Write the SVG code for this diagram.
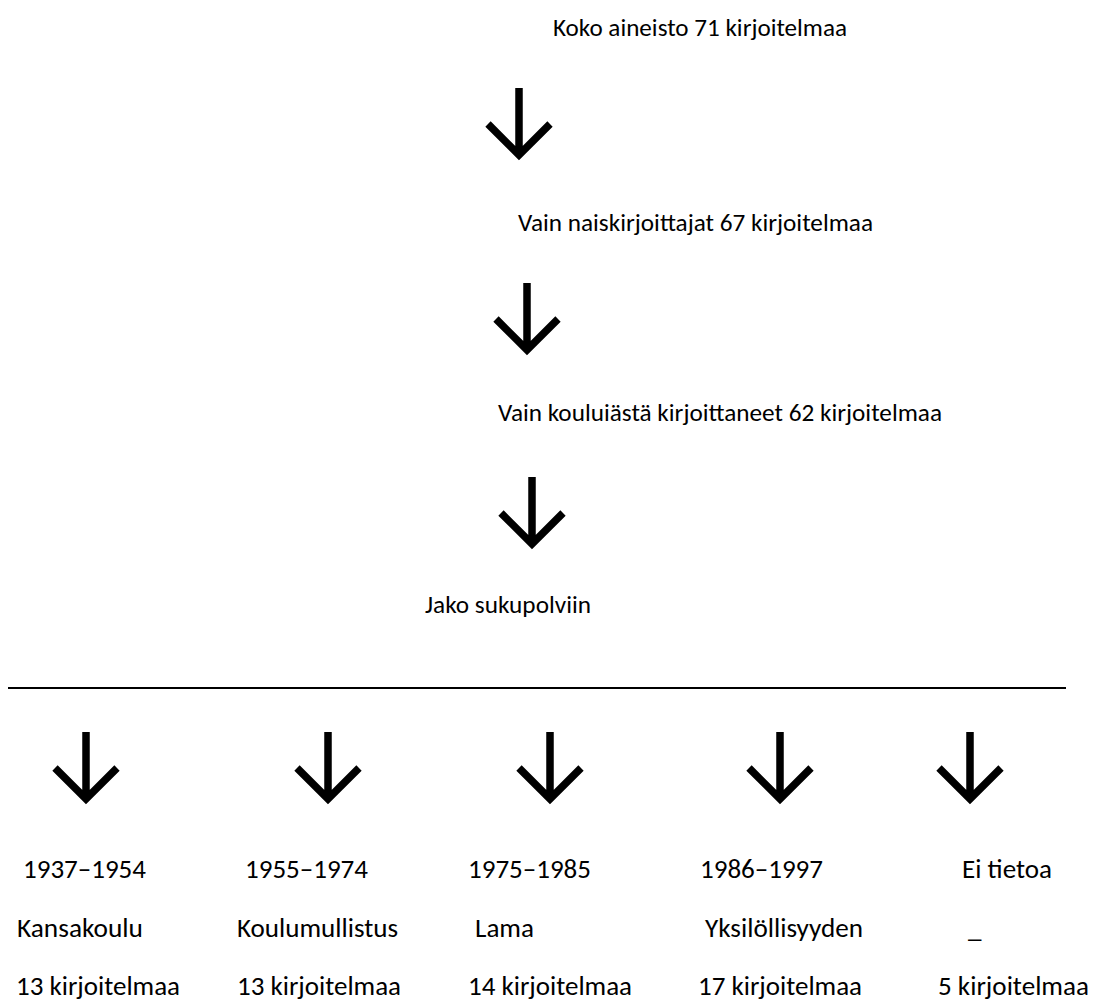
<svg xmlns="http://www.w3.org/2000/svg" width="1110" height="1001" viewBox="0 0 1110 1001">
<style>
text{font-family:Carlito,Lato,"Liberation Sans",sans-serif;font-size:27px;fill:#000}
text.top{font-size:25px}
.arr{fill:none;stroke:#000;stroke-width:7.5;stroke-linejoin:miter;stroke-linecap:butt}
</style>
<defs>
<g id="down"><path class="arr" d="M0,0V66M-31,36L0,67L31,36"/></g>
</defs>
<rect width="1110" height="1001" fill="#fff"/>
<g id="n1"><text class="top" x="553" y="36" textLength="294" lengthAdjust="spacingAndGlyphs">Koko aineisto 71 kirjoitelmaa</text></g>
<g id="n2"><text class="top" x="518" y="231" textLength="355" lengthAdjust="spacingAndGlyphs">Vain naiskirjoittajat 67 kirjoitelmaa</text></g>
<g id="n3"><text class="top" x="498" y="421" textLength="444" lengthAdjust="spacingAndGlyphs">Vain kouluiästä kirjoittaneet 62 kirjoitelmaa</text></g>
<g id="n4"><text class="top" x="425" y="613" textLength="166" lengthAdjust="spacingAndGlyphs">Jako sukupolviin</text></g>
<g id="separator"><line x1="8" y1="688" x2="1066" y2="688" stroke="#000" stroke-width="2"/></g>
<g id="g1"><text x="23" y="878" textLength="123" lengthAdjust="spacingAndGlyphs">1937–1954</text><text x="17" y="937" textLength="126" lengthAdjust="spacingAndGlyphs">Kansakoulu</text><text x="16" y="995" textLength="164" lengthAdjust="spacingAndGlyphs">13 kirjoitelmaa</text></g>
<g id="g2"><text x="245" y="878" textLength="123" lengthAdjust="spacingAndGlyphs">1955–1974</text><text x="237" y="937" textLength="161" lengthAdjust="spacingAndGlyphs">Koulumullistus</text><text x="237" y="995" textLength="164" lengthAdjust="spacingAndGlyphs">13 kirjoitelmaa</text></g>
<g id="g3"><text x="468" y="878" textLength="123" lengthAdjust="spacingAndGlyphs">1975–1985</text><text x="475" y="937" textLength="59" lengthAdjust="spacingAndGlyphs">Lama</text><text x="468" y="995" textLength="164" lengthAdjust="spacingAndGlyphs">14 kirjoitelmaa</text></g>
<g id="g4"><text x="700" y="878" textLength="123" lengthAdjust="spacingAndGlyphs">1986–1997</text><text x="705" y="937" textLength="158" lengthAdjust="spacingAndGlyphs">Yksilöllisyyden</text><text x="698" y="995" textLength="164" lengthAdjust="spacingAndGlyphs">17 kirjoitelmaa</text></g>
<g id="g5"><text x="962" y="878" textLength="90" lengthAdjust="spacingAndGlyphs">Ei tietoa</text><text x="968" y="937">_</text><text x="938" y="995" textLength="151" lengthAdjust="spacingAndGlyphs">5 kirjoitelmaa</text></g>
<g id="connectors">
<use href="#down" x="519" y="88"/>
<use href="#down" x="527" y="283"/>
<use href="#down" x="532" y="477"/>
<use href="#down" x="86" y="732"/>
<use href="#down" x="328" y="732"/>
<use href="#down" x="550" y="732"/>
<use href="#down" x="780" y="732"/>
<use href="#down" x="970" y="732"/>
</g>
</svg>
